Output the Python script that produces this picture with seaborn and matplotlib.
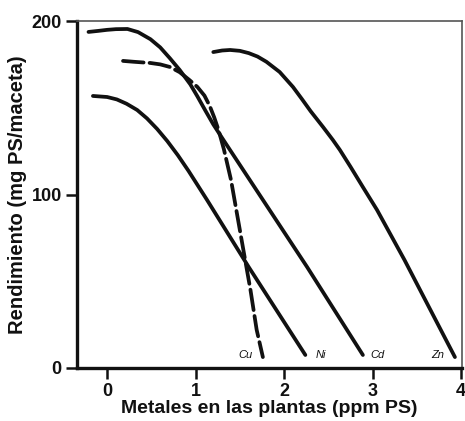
import matplotlib
matplotlib.use("Agg")
import matplotlib.pyplot as plt
import seaborn as sns
import pandas as pd

# Yield response curves of plants to metal content in tissue
cd_x = [-0.21, -0.10, 0.00, 0.10, 0.23, 0.35, 0.49, 0.60, 0.71, 0.82,
        0.94, 1.02, 1.11, 1.20, 1.32, 2.26, 2.89]
cd_y = [193.7, 194.3, 194.9, 195.3, 195.4, 193.6, 189.5, 184.8, 178.5, 171.8,
        163.5, 156.6, 148.4, 140.4, 131.0, 58.2, 7.5]

ni_x = [-0.16, 0.00, 0.11, 0.22, 0.34, 0.45, 0.565, 0.68, 0.80, 0.92,
        1.03, 1.13, 1.60, 2.24]
ni_y = [156.8, 156.2, 154.8, 152.3, 148.7, 143.9, 137.8, 130.8, 122.6, 113.6,
        104.8, 96.8, 58.2, 7.5]

cu_x = [0.18, 0.30, 0.49, 0.60, 0.71, 0.82, 0.93, 1.02, 1.10, 1.16, 1.21,
        1.26, 1.32, 1.40, 1.47, 1.54, 1.62, 1.69, 1.76]
cu_y = [177.0, 176.5, 175.8, 175.0, 173.5, 170.5, 166.0, 162.0, 157.0, 151.0,
        144.5, 137.0, 126.0, 108.4, 88.2, 68.0, 45.0, 22.0, 6.3]

zn_x = [1.20, 1.30, 1.39, 1.50, 1.60, 1.70, 1.80, 1.95, 2.10, 2.20, 2.30,
        2.44, 2.55, 2.63, 2.75, 2.89, 3.05, 3.36, 3.93]
zn_y = [182.1, 183.0, 183.3, 182.8, 181.5, 179.5, 176.5, 170.6, 162.0, 155.1,
        148.0, 138.9, 131.5, 125.7, 116.0, 104.3, 91.1, 62.3, 6.3]

metals = ["Cu", "Ni", "Cd", "Zn"]
label_x = [1.56, 2.42, 3.05, 3.74]
label_y = [7.5, 7.5, 7.5, 7.5]

x_ticks = [0, 1, 2, 3, 4]
y_ticks = [0, 100, 200]

frames = []
for name, xs, ys in [("Cd", cd_x, cd_y), ("Ni", ni_x, ni_y),
                     ("Cu", cu_x, cu_y), ("Zn", zn_x, zn_y)]:
    frames.append(pd.DataFrame({"metal": name, "x": xs, "y": ys}))
df = pd.concat(frames, ignore_index=True)

sns.set_style("ticks")
plt.rcParams["font.family"] = ["Liberation Sans", "DejaVu Sans"]

fig = plt.figure(figsize=(4.65, 4.21), dpi=100)
ax = fig.add_axes([77 / 465, 53 / 421, 385 / 465, 347 / 421])

sns.lineplot(
    data=df, x="x", y="y", hue="metal", style="metal",
    palette={m: "#111111" for m in metals},
    dashes={"Cd": "", "Ni": "", "Zn": "", "Cu": (5.5, 1.6)},
    estimator=None, sort=False, legend=False, linewidth=2.7,
    solid_capstyle="round", solid_joinstyle="round",
    dash_capstyle="round", dash_joinstyle="round", ax=ax,
)

for name, lx, ly in zip(metals, label_x, label_y):
    ax.text(lx, ly, name, ha="center", va="center", fontsize=8,
            style="italic", color="#111111")

ax.set_xlim(-0.34, 4.01)
ax.set_ylim(0, 200)
ax.set_xticks(x_ticks)
ax.set_yticks(y_ticks)
ax.tick_params(axis="both", direction="out", length=8, width=1.8,
               color="#111111", labelsize=13, pad=3, labelcolor="#111111")
for lab in ax.get_xticklabels() + ax.get_yticklabels():
    lab.set_fontweight("bold")

ax.set_xlabel("Metales en las plantas (ppm PS)", fontsize=14,
              fontweight="bold", labelpad=0, color="#111111")
ax.set_ylabel("Rendimiento (mg PS/maceta)", fontsize=14.5,
              fontweight="bold", labelpad=3, color="#111111")

for side in ["left", "bottom"]:
    ax.spines[side].set_linewidth(2.4)
    ax.spines[side].set_color("#111111")
for side in ["top", "right"]:
    ax.spines[side].set_visible(True)
    ax.spines[side].set_linewidth(1.2)
    ax.spines[side].set_color("#555555")

fig.savefig("out.png", dpi=100)
